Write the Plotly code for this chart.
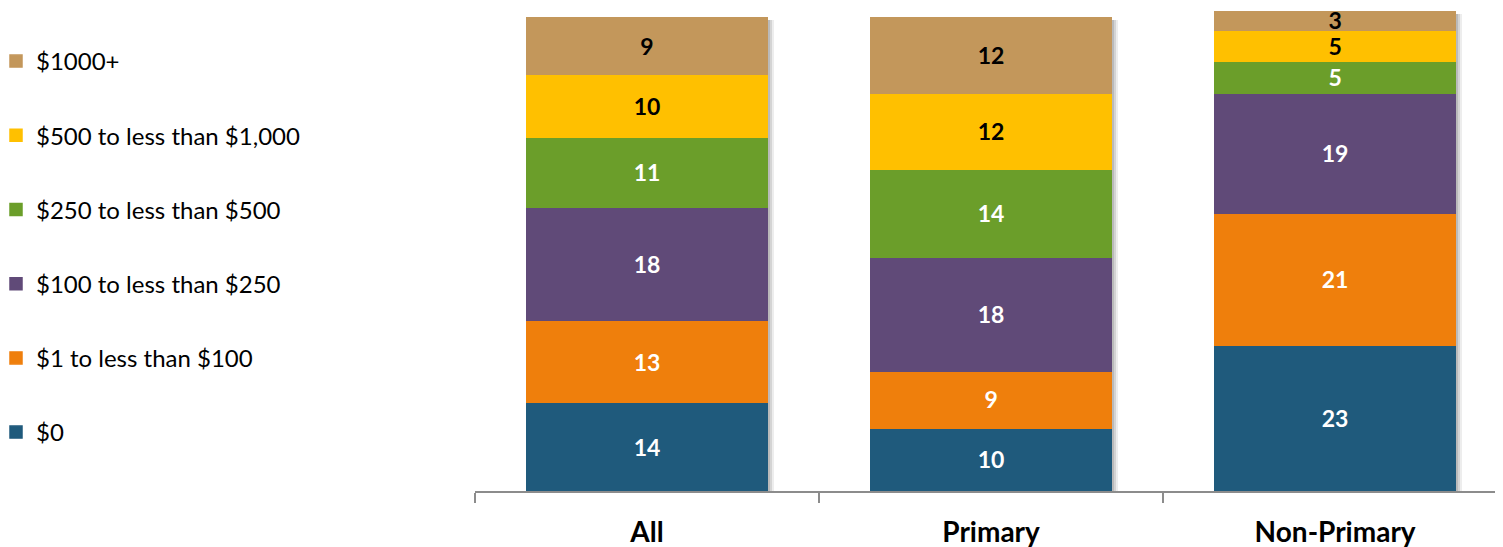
import plotly.graph_objects as go

categories = ["All", "Primary", "Non-Primary"]
series_names = ["$0", "$1 to less than $100", "$100 to less than $250",
                "$250 to less than $500", "$500 to less than $1,000", "$1000+"]
v_zero = [14, 10, 23]
v_1_100 = [13, 9, 21]
v_100_250 = [18, 18, 19]
v_250_500 = [11, 14, 5]
v_500_1000 = [10, 12, 5]
v_1000p = [9, 12, 3]
series_values = [v_zero, v_1_100, v_100_250, v_250_500, v_500_1000, v_1000p]
colors = ["#1F5A7C", "#EF7F0C", "#604A78", "#6B9E2A", "#FFC000", "#C3975B"]
label_colors = ["white", "white", "white", "white", "black", "black"]

totals = [sum(s[i] for s in series_values) for i in range(len(categories))]

fig = go.Figure()

# soft shadow behind the stacks (base axis, drawn underneath)
for alpha, shift in [(0.07, 0.020), (0.10, 0.013), (0.12, 0.007)]:
    fig.add_trace(go.Bar(
        x=categories, y=totals, base=-0.5,
        xaxis="x", yaxis="y",
        marker=dict(color=f"rgba(0,0,0,{alpha})", line=dict(width=0)),
        width=0.70, offset=-0.35 + shift,
        showlegend=False, hoverinfo="skip",
    ))

n = len(series_names)
for i, (name, vals, col, lc) in enumerate(zip(series_names, series_values, colors, label_colors)):
    fig.add_trace(go.Bar(
        x=categories, y=vals, name=name, legendgroup=name,
        legendrank=n - i,
        xaxis="x2", yaxis="y",
        marker=dict(color=col, line=dict(width=1.5, color=col)),
        width=0.70,
        text=[str(v) for v in vals], textposition="inside",
        insidetextanchor="middle", textangle=0, constraintext="none",
        textfont=dict(family="Lato", size=23, color=lc, weight="bold"),
        cliponaxis=False,
    ))

W, H = 1495, 539
L, T, B = 467, 2.5, 56
xr = [-0.5, 2.488]
fig.update_layout(
    width=W, height=H,
    margin=dict(l=L, r=0, t=T, b=B, autoexpand=False),
    barmode="stack",
    plot_bgcolor="white", paper_bgcolor="white",
    font=dict(family="Lato", color="black"),
    xaxis=dict(
        type="category", range=xr, showgrid=False, zeroline=False,
        showline=True, linecolor="#8C8C8C", linewidth=1.5,
        ticks="outside", tickson="boundaries", ticklen=10, tickcolor="#8C8C8C",
        tickwidth=1.5,
        tickfont=dict(family="Lato", size=28, color="black", weight="bold"),
        ticklabelstandoff=16,
    ),
    xaxis2=dict(
        type="category", range=xr, overlaying="x", matches="x",
        showgrid=False, zeroline=False, showline=False, showticklabels=False,
        ticks="",
    ),
    yaxis=dict(range=[0, 76], visible=False, showgrid=False, zeroline=False),
    legend=dict(
        xref="paper", yref="container", x=(-12 - L) / (W - L), y=1 - 31 / H,
        xanchor="left", yanchor="top",
        tracegroupgap=40, maxheight=1.0,
        font=dict(family="Lato", size=24, color="black"),
        bgcolor="rgba(0,0,0,0)", itemclick=False,
    ),
    bargap=0.3,
)

fig.write_html("out.html")
